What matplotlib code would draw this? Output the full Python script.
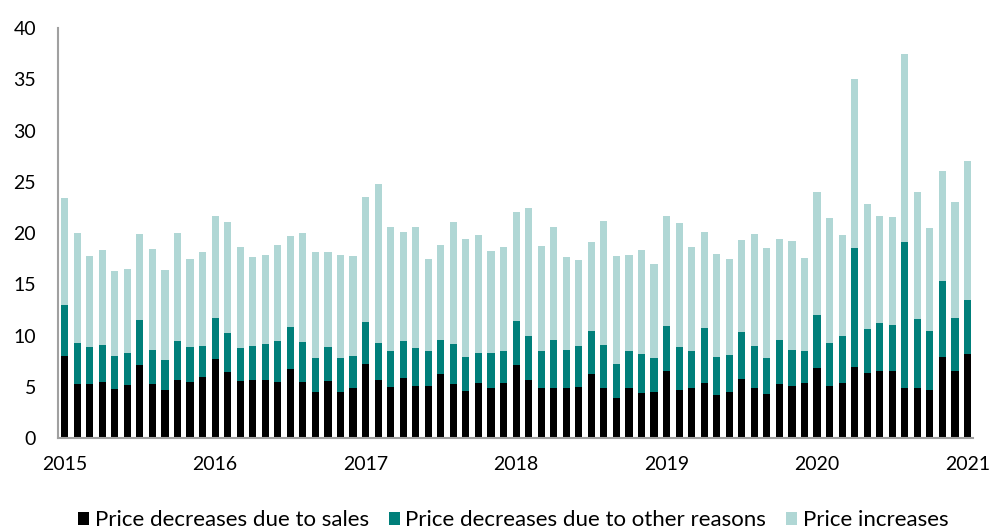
"""Stacked monthly bars: share of price changes by type, 2015-2021."""

import matplotlib

matplotlib.use("Agg")
import matplotlib.pyplot as plt
import numpy as np

BLACK = "#000000"
TEAL = "#007f7a"
LIGHT = "#b0d7d5"
SPINE = "#a0a0a0"

plt.rcParams["font.family"] = ["Lato", "DejaVu Sans"]

YEARS = ["2015", "2016", "2017", "2018", "2019", "2020", "2021"]

# Jan 2015 .. Jan 2021, 73 months
sales = [
    7.97, 5.3, 5.26, 5.5, 4.74, 5.13, 7.1, 5.3, 4.64, 5.7, 5.45, 5.95,
    7.75, 6.4, 5.55, 5.7, 5.7, 5.45, 6.7, 5.5, 4.5, 5.6, 4.45, 4.85,
    7.2, 5.7, 5.0, 5.9, 5.05, 5.1, 6.2, 5.3, 4.6, 5.4, 4.87, 5.35,
    7.15, 5.7, 4.9, 4.85, 4.9, 4.95, 6.2, 4.85, 3.95, 4.85, 4.38, 4.5,
    6.5, 4.64, 4.85, 5.35, 4.2, 4.5, 5.8, 4.85, 4.25, 5.3, 5.1, 5.35,
    6.83, 5.03, 5.33, 6.96, 6.34, 6.5, 6.57, 4.84, 4.84, 4.64, 7.9, 6.5,
    8.2,
]
# cumulative top of the "other reasons" segment
other_top = [
    13.0, 9.3, 8.85, 9.1, 8.0, 8.27, 11.5, 8.6, 7.6, 9.5, 8.85, 9.0,
    11.7, 10.2, 8.76, 9.0, 9.15, 9.45, 10.8, 9.35, 7.8, 8.9, 7.85, 8.0,
    11.3, 9.25, 8.5, 9.5, 8.8, 8.5, 9.6, 9.2, 7.9, 8.3, 8.27, 8.5,
    11.4, 10.0, 8.5, 9.6, 8.6, 8.95, 10.4, 9.05, 7.25, 8.5, 8.2, 7.85,
    10.95, 8.9, 8.46, 10.7, 7.9, 8.07, 10.3, 8.95, 7.8, 9.6, 8.6, 8.46,
    12.0, 9.25, 9.93, 18.56, 10.6, 11.2, 11.0, 19.1, 11.6, 10.4, 15.3, 11.7,
    13.5,
]
# total (bar top)
total = [
    23.4, 20.0, 17.8, 18.3, 16.3, 16.5, 19.9, 18.4, 16.4, 20.0, 17.45, 18.1,
    21.7, 21.1, 18.6, 17.7, 17.9, 18.8, 19.7, 19.97, 18.1, 18.1, 17.85, 17.75,
    23.5, 24.8, 20.6, 20.1, 20.55, 17.45, 18.8, 21.1, 19.4, 19.8, 18.2, 18.6,
    22.1, 22.4, 18.7, 20.55, 17.7, 17.4, 19.15, 21.2, 17.75, 17.85, 18.3, 17.0,
    21.7, 21.0, 18.6, 20.1, 18.0, 17.45, 19.35, 19.9, 18.5, 19.4, 19.2, 17.6,
    24.0, 21.5, 19.8, 35.07, 22.8, 21.7, 21.6, 37.5, 24.05, 20.5, 26.1, 23.0,
    27.0,
]

sales = np.array(sales)
other = np.array(other_top) - sales
increases = np.array(total) - np.array(other_top)
x = np.arange(len(sales))

fig = plt.figure(figsize=(9.89, 5.29), dpi=100)
ax = fig.add_axes([0.059, 0.172, 0.925, 0.775])

w = 0.57
ax.bar(x, sales, w, color=BLACK, label="Price decreases due to sales", lw=0)
ax.bar(x, other, w, bottom=sales, color=TEAL,
       label="Price decreases due to other reasons", lw=0)
ax.bar(x, increases, w, bottom=sales + other, color=LIGHT,
       label="Price increases", lw=0)

ax.set_xlim(-0.5, 72.45)
ax.set_ylim(0, 40)
ax.set_yticks(np.arange(0, 41, 5))
ax.set_xticks(np.arange(0, 73, 12))
ax.set_xticklabels(YEARS)
ax.tick_params(axis="y", length=0, pad=16, labelsize=14)
ax.tick_params(axis="x", length=0, pad=13, labelsize=14)

for spine in ("top", "right"):
    ax.spines[spine].set_visible(False)
for spine in ("left", "bottom"):
    ax.spines[spine].set_color(SPINE)
    ax.spines[spine].set_linewidth(1.5)

fig.legend(
    loc="lower center",
    bbox_to_anchor=(0.519, -0.04),
    ncol=3,
    frameon=False,
    fontsize=16,
    handlelength=0.5,
    handleheight=0.55,
    handletextpad=0.25,
    columnspacing=0.9,
)

fig.savefig("out.png", dpi=100)
plt.close(fig)
